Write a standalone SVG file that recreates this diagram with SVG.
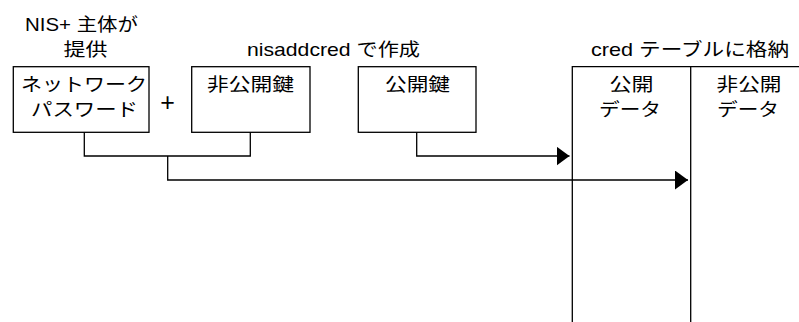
<svg xmlns="http://www.w3.org/2000/svg" width="799" height="322" viewBox="0 0 799 322">
  <defs>
    <style>
      .box { fill: #fff; stroke: #000; stroke-width: 1.3; }
      .ln { fill: none; stroke: #000; stroke-width: 1.3; }
      text { font-family: "Liberation Sans", "Noto Sans CJK JP", sans-serif; font-size: 18.5px; fill: #000; text-anchor: middle; }
      .plus { font-size: 25px; }
    </style>
    <marker id="arr" markerUnits="userSpaceOnUse" markerWidth="14" markerHeight="20" refX="13" refY="9.5" orient="auto">
      <path d="M0,0 L13,9.5 L0,19 Z" fill="#000"/>
    </marker>
  </defs>
  <rect width="799" height="322" fill="#fff"/>

  <g id="label-principal">
    <text x="81.5" y="31" textLength="113" lengthAdjust="spacingAndGlyphs">NIS+ 主体が</text>
    <text x="85.5" y="56" textLength="44" lengthAdjust="spacingAndGlyphs">提供</text>
  </g>
  <g id="label-nisaddcred">
    <text x="333.5" y="56" textLength="173" lengthAdjust="spacingAndGlyphs">nisaddcred で作成</text>
  </g>
  <g id="label-cred">
    <text x="690" y="56" textLength="198" lengthAdjust="spacingAndGlyphs">cred テーブルに格納</text>
  </g>

  <g id="node-password">
    <rect class="box" x="13.3" y="66.7" width="135.7" height="65.6"/>
    <text x="84" y="91" textLength="126" lengthAdjust="spacingAndGlyphs">ネットワーク</text>
    <text x="84.5" y="116" textLength="107" lengthAdjust="spacingAndGlyphs">パスワード</text>
  </g>
  <g id="plus">
    <text class="plus" x="167.5" y="111">+</text>
  </g>
  <g id="node-private-key">
    <rect class="box" x="191.7" y="66.7" width="118.3" height="65.6"/>
    <text x="250.5" y="91" textLength="87" lengthAdjust="spacingAndGlyphs">非公開鍵</text>
  </g>
  <g id="node-public-key">
    <rect class="box" x="358.3" y="66.7" width="117.7" height="65.6"/>
    <text x="417.5" y="91" textLength="65" lengthAdjust="spacingAndGlyphs">公開鍵</text>
  </g>
  <g id="node-cred-table">
    <path class="ln" d="M572.3,322 V66.7 H799 M690.7,66.7 V322"/>
    <text x="631.5" y="91" textLength="44" lengthAdjust="spacingAndGlyphs">公開</text>
    <text x="630" y="116" textLength="62" lengthAdjust="spacingAndGlyphs">データ</text>
    <text x="749" y="91" textLength="65" lengthAdjust="spacingAndGlyphs">非公開</text>
    <text x="748" y="116" textLength="62" lengthAdjust="spacingAndGlyphs">データ</text>
  </g>

  <g id="connectors">
    <path class="ln" d="M84.3,132.3 V156 H250.3 V132.3"/>
    <path class="ln" d="M167.7,156 V180 H688" marker-end="url(#arr)"/>
    <path class="ln" d="M416.7,132.3 V156 H569.5" marker-end="url(#arr)"/>
  </g>
</svg>
